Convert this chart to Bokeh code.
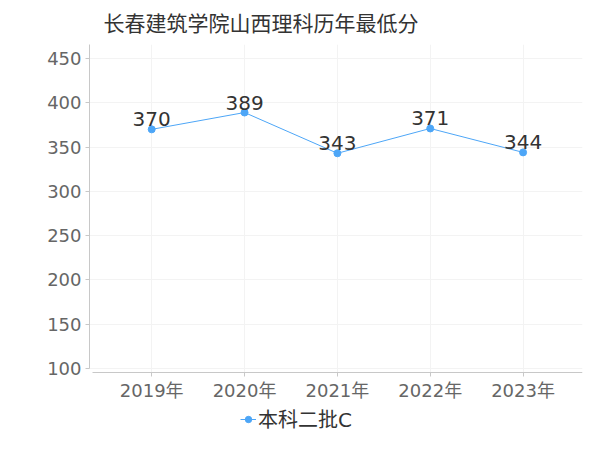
from bokeh.plotting import figure
from bokeh.models import Range1d, FixedTicker, Legend, LegendItem, ColumnDataSource, BoxAnnotation
from bokeh.embed import file_html
from bokeh.resources import INLINE

years = ["2019年", "2020年", "2021年", "2022年", "2023年"]
scores = [370, 389, 343, 371, 344]
series_name = "本科二批C"
title_text = "长春建筑学院山西理科历年最低分"
y_ticks = [100, 150, 200, 250, 300, 350, 400, 450]

FONT = "DejaVu Sans, Noto Sans CJK SC"
COLOR = "#4da6f7"
Y_BASE = 95.5
Y_TOP = 465.8

xs = list(range(len(years)))
src = ColumnDataSource(dict(x=xs, y=scores, lbl=[str(s) for s in scores]))

p = figure(frame_width=493, frame_height=390, output_backend="svg", toolbar_location=None,
           x_range=Range1d(-0.67, 4.64), y_range=Range1d(25.5, Y_TOP),
           min_border_left=89, min_border_right=2, min_border_top=44, min_border_bottom=0)
p.outline_line_color = None

p.title.text = title_text
p.title.align = "left"
p.title.offset = 14
p.title.standoff = 18
p.title.text_font = FONT
p.title.text_font_size = "21px"
p.title.text_font_style = "normal"
p.title.text_color = "#333333"

p.xgrid.ticker = FixedTicker(ticks=xs)
p.xgrid.grid_line_color = "#f3f3f3"
p.ygrid.grid_line_color = "#f3f3f3"
p.ygrid.ticker = FixedTicker(ticks=y_ticks)

# hide grid below the chart area (legend zone)
p.add_layout(BoxAnnotation(top=Y_BASE, fill_color="white", fill_alpha=1, line_alpha=0, level="underlay"))

line = p.line("x", "y", source=src, line_color=COLOR, line_width=1)
dots = p.scatter("x", "y", source=src, size=7, fill_color=COLOR, line_color=COLOR)
p.text("x", "y", text="lbl", source=src, text_align="center", text_baseline="bottom",
       y_offset=-3, text_font_size="20px", text_color="#333333",
       text_font={"value": FONT})

p.xaxis.ticker = FixedTicker(ticks=xs)
p.xaxis.major_label_overrides = {i: y for i, y in enumerate(years)}
p.xaxis.fixed_location = Y_BASE
p.xaxis.bounds = (-0.64, 4.64)
p.yaxis.ticker = FixedTicker(ticks=y_ticks)
p.yaxis.bounds = (100, Y_TOP)

for ax in (p.xaxis, p.yaxis):
    ax.axis_line_color = "#c8c8c8"
    ax.major_tick_line_color = "#c8c8c8"
    ax.major_tick_out = 4
    ax.major_tick_in = 0
    ax.minor_tick_line_color = None
    ax.major_label_text_font = FONT
    ax.major_label_text_font_size = "18px"
    ax.major_label_text_color = "#666666"
    ax.major_label_standoff = 4

legend = Legend(items=[LegendItem(label=series_name, renderers=[line, dots])],
                orientation="horizontal", location=(151, 1),
                label_text_font=FONT, label_text_font_size="20px", label_text_color="#333333",
                border_line_alpha=0, background_fill_alpha=0,
                glyph_width=16, glyph_height=16, label_standoff=2, padding=0, margin=0)
p.add_layout(legend, "center")

open("out.html", "w").write(file_html(p, INLINE))
